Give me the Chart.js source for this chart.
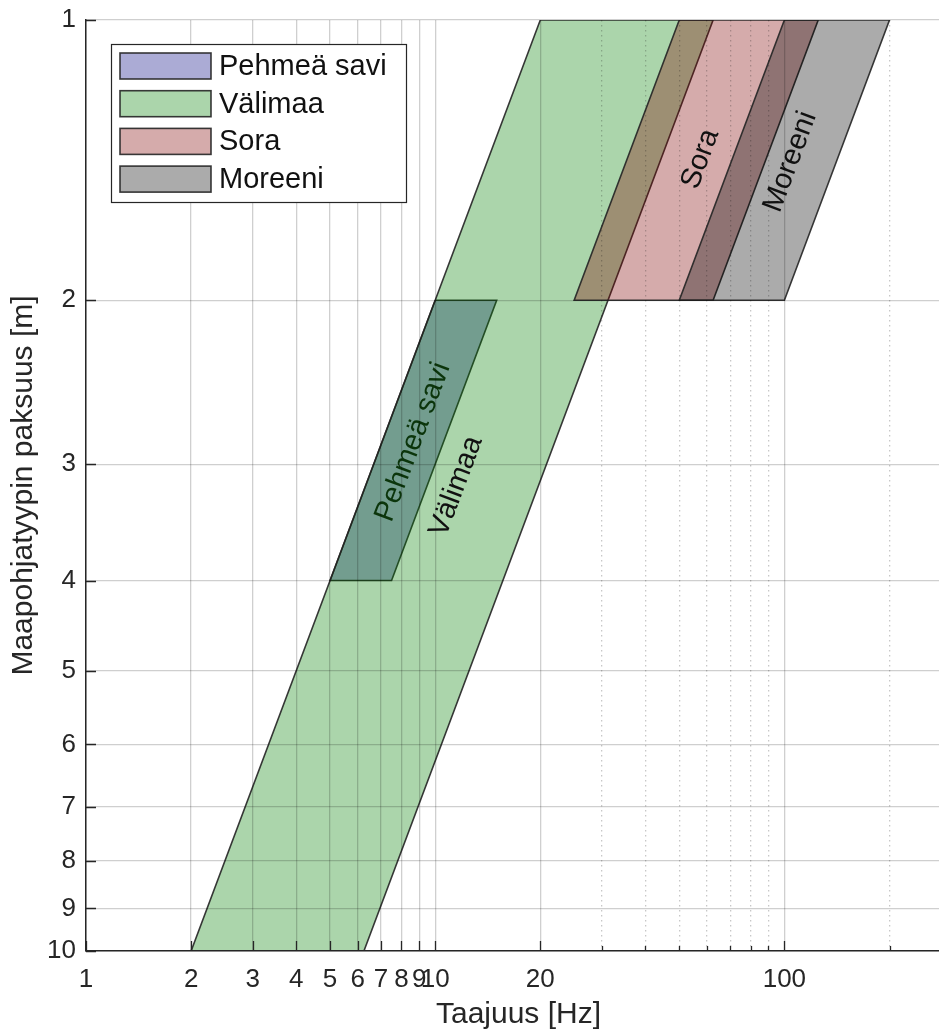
<!DOCTYPE html>
<html><head><meta charset="utf-8">
<script src="https://cdn.jsdelivr.net/npm/chart.js@4"></script>
<style>html,body{margin:0;padding:0;overflow:hidden;background:#fff}#wrap{width:952px;height:1033px}</style>
</head><body><div id="wrap"><canvas id="c" width="952" height="1033"></canvas></div>
<script>
// ---- data ----
const xTickValues = [1, 2, 3, 4, 5, 6, 7, 8, 9, 10, 20, 100];
const xMinorValues = [30, 40, 50, 60, 70, 80, 90, 200];
const yTickValues = [1, 2, 3, 4, 5, 6, 7, 8, 9, 10];
const seriesNames = ['Pehmeä savi', 'Välimaa', 'Sora', 'Moreeni'];
const saviFreq = [10, 15, 7.5, 5];        const saviDepth = [2, 2, 4, 4];
const valimaaFreq = [20, 62.5, 6.25, 2];  const valimaaDepth = [1, 1, 10, 10];
const soraFreq = [50, 125, 62.5, 25];     const soraDepth = [1, 1, 2, 2];
const moreeniFreq = [100, 200, 100, 50];  const moreeniDepth = [1, 1, 2, 2];
// in-plot label anchors (data coordinates)
const labelFreq = [8.65, 11.5, 57.5, 104];
const labelDepth = [2.84, 3.17, 1.41, 1.42];

// ---- styles ----
const FONT = "'Liberation Sans', Arial, Helvetica, sans-serif";
const fills = ['rgba(0,0,128,0.33)', 'rgba(0,128,0,0.33)', 'rgba(128,0,0,0.33)', 'rgba(0,0,0,0.33)'];
const edge = 'rgba(35,35,35,0.9)';
const axisColor = '#262626';
Chart.defaults.font.family = FONT;
Chart.defaults.color = axisColor;

function poly(f, h) {
  const pts = f.map((v, i) => ({ x: v, y: h[i] }));
  pts.push({ x: f[0], y: h[0] });
  return pts;
}
const polys = [poly(saviFreq, saviDepth), poly(valimaaFreq, valimaaDepth), poly(soraFreq, soraDepth), poly(moreeniFreq, moreeniDepth)];
const datasets = polys.map((d, i) => ({
  label: seriesNames[i], data: d, showLine: true, fill: 'shape', tension: 0,
  backgroundColor: fills[i], borderColor: edge, borderWidth: 1.6,
  pointRadius: 0, pointHoverRadius: 0, order: 4 - i
}));

const isMinor = v => xMinorValues.includes(v);

const labelPlugin = {
  id: 'inlabels',
  afterDatasetDraw(chart, args) {
    const i = args.index;
    const xs = chart.scales.x, ys = chart.scales.y, ctx = chart.ctx;
    const ax = xs.getPixelForValue(valimaaFreq[3]) - xs.getPixelForValue(valimaaFreq[0]);
    const ay = ys.getPixelForValue(valimaaDepth[3]) - ys.getPixelForValue(valimaaDepth[0]);
    const ang = Math.atan2(-ay, -ax);
    ctx.save();
    ctx.beginPath();
    ctx.rect(chart.chartArea.left, chart.chartArea.top, chart.chartArea.width, chart.chartArea.height);
    ctx.clip();
    ctx.translate(xs.getPixelForValue(labelFreq[i]), ys.getPixelForValue(labelDepth[i]));
    ctx.rotate(ang);
    ctx.font = '29px ' + FONT;
    ctx.fillStyle = '#111';
    ctx.textAlign = 'center';
    ctx.textBaseline = 'middle';
    ctx.fillText(seriesNames[i], 0, 0);
    ctx.restore();
  }
};

const tickPlugin = {
  id: 'inticks',
  afterDraw(chart) {
    const xs = chart.scales.x, ys = chart.scales.y, ctx = chart.ctx, a = chart.chartArea;
    ctx.save();
    ctx.strokeStyle = axisColor; ctx.lineWidth = 1.3;
    ctx.beginPath();
    xTickValues.concat(xMinorValues).forEach(v => {
      const px = Math.round(xs.getPixelForValue(v)) + 0.5;
      const len = isMinor(v) ? 5 : 10;
      ctx.moveTo(px, a.bottom); ctx.lineTo(px, a.bottom - len);
    });
    yTickValues.forEach(v => {
      const py = Math.round(ys.getPixelForValue(v)) + 0.5;
      ctx.moveTo(a.left, py); ctx.lineTo(a.left + 10, py);
    });
    ctx.stroke();
    ctx.restore();
  }
};

const legendPlugin = {
  id: 'boxlegend',
  afterDraw(chart) {
    const ctx = chart.ctx;
    const bx = 111, by = 44, bw = 295, bh = 158;
    ctx.save();
    ctx.fillStyle = '#fff';
    ctx.fillRect(bx, by, bw, bh);
    ctx.strokeStyle = axisColor; ctx.lineWidth = 1.2;
    ctx.strokeRect(bx + 0.5, by + 0.5, bw, bh);
    chart.data.datasets.forEach((ds, i) => {
      const ry = 53 + i * 37.7;
      ctx.fillStyle = ds.backgroundColor;
      ctx.fillRect(120, ry, 91, 26);
      ctx.strokeStyle = edge; ctx.lineWidth = 1.6;
      ctx.strokeRect(120, ry, 91, 26);
      ctx.fillStyle = '#111';
      ctx.font = '29px ' + FONT;
      ctx.textAlign = 'left'; ctx.textBaseline = 'middle';
      ctx.fillText(ds.label, 219, ry + 14);
    });
    ctx.restore();
  }
};

new Chart(document.getElementById('c'), {
  type: 'scatter',
  data: { datasets },
  options: {
    responsive: false, animation: false, events: [],
    layout: { padding: { top: 20, right: 1, left: 0, bottom: 0 } },
    plugins: { legend: { display: false }, tooltip: { enabled: false },
      filler: { propagate: false } },
    scales: {
      x: {
        type: 'logarithmic', min: 1, max: 300,
        afterBuildTicks: s => { s.ticks = xTickValues.concat(xMinorValues).sort((a, b) => a - b).map(v => ({ value: v })); },
        afterFit: s => { s.height = 82; s.paddingLeft = 0; s.paddingRight = 0; s.paddingTop = 0; s.paddingBottom = 0; },
        ticks: { autoSkip: false, maxRotation: 0, padding: 13, font: { size: 26 }, color: axisColor,
          callback: v => xTickValues.includes(v) ? String(v) : '' },
        grid: { drawTicks: false, z: 1, lineWidth: 1.3,
          color: c => (c.tick && isMinor(c.tick.value)) ? 'rgba(0,0,0,0.22)' : 'rgba(0,0,0,0.19)' },
        border: { display: true, z: 2, color: axisColor, width: 1.5,
          dash: c => (c.tick && isMinor(c.tick.value)) ? [1.5, 3.5] : [] },
        title: { display: true, text: 'Taajuus [Hz]', font: { size: 30 }, color: axisColor, padding: { top: 0, bottom: 0 } }
      },
      y: {
        type: 'logarithmic', min: 1, max: 10, reverse: true,
        afterBuildTicks: s => { s.ticks = yTickValues.map(v => ({ value: v })); },
        afterFit: s => { s.width = 86; s.paddingLeft = 0; s.paddingRight = 0; s.paddingTop = 0; s.paddingBottom = 0; },
        ticks: { autoSkip: false, padding: 10, font: { size: 26 }, color: axisColor,
          callback: v => String(v) },
        grid: { drawTicks: false, z: 1, lineWidth: 1.3, color: 'rgba(0,0,0,0.19)' },
        border: { display: true, z: 2, color: axisColor, width: 1.5 },
        title: { display: true, text: 'Maapohjatyypin paksuus [m]', font: { size: 30 }, color: axisColor, padding: { top: 6, bottom: 0 } }
      }
    }
  },
  plugins: [labelPlugin, tickPlugin, legendPlugin]
});
</script></body></html>
